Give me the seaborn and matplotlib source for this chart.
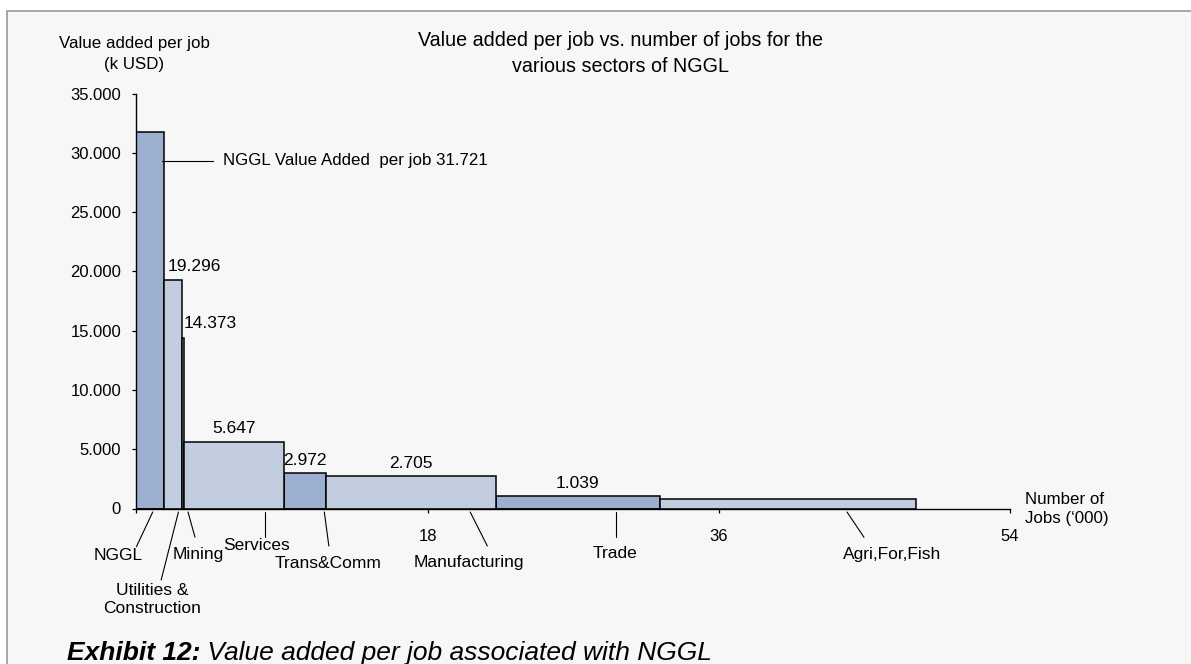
import numpy as np
import pandas as pd
import matplotlib
matplotlib.use("Agg")
import matplotlib.pyplot as plt
import matplotlib.transforms as mtransforms
from matplotlib.patches import Rectangle
import seaborn as sns

# ---------------- data ----------------
sectors = ["NGGL", "Utilities &\nConstruction", "Mining", "Services", "Trans&Comm",
           "Manufacturing", "Trade", "Agri,For,Fish"]
jobs_000 = [1.70, 1.14, 0.12, 6.15, 2.60, 10.51, 10.14, 15.83]          # bar widths ('000 jobs)
value_per_job = [31.721, 19.296, 14.373, 5.647, 2.972, 2.705, 1.039, 0.78]  # k USD
value_labels = ["", "19.296", "14.373", "5.647", "2.972", "2.705", "1.039", ""]
shade = ["dark", "light", "light", "light", "dark", "light", "dark", "light"]
y_ticks = [0, 5, 10, 15, 20, 25, 30, 35]
y_tick_labels = ["0", "5.000", "10.000", "15.000", "20.000", "25.000", "30.000", "35.000"]
x_ticks = [0, 18, 36, 54]
x_tick_labels = ["", "18", "36", "54"]
nggl_note = "NGGL Value Added  per job 31.721"

# ---------------- layout ----------------
W, H = 1191, 664
COLORS = {"dark": "#9DAFCF", "light": "#C2CEE0"}
BG = "#F7F7F7"


def fy(py):
    return 1 - py / H


# leader lines: (x start, y start px, x end, y end px, label x, label y px)
leaders = [
    (1.01, 512, 0.00, 546.7, -1.15, 555),
    (2.60, 512, 1.53, 580.0, 0.95, 599.5),
    (3.19, 512, 3.62, 537.0, 3.82, 554),
    (7.93, 512, 7.93, 536.7, 7.40, 546),
    (11.62, 512, 11.90, 546.0, 11.87, 563),
    (20.64, 512, 21.70, 546.0, 20.56, 563),
    (29.65, 512, 29.65, 537.0, 29.58, 554),
    (43.94, 512, 44.99, 537.3, 46.75, 554),
]
# value label placement: (ha, x offset px from anchor, y offset px above bar top)
value_place = {1: ("left", 4, 13), 2: ("left", 1, 15)}

sns.set_style("ticks")
plt.rcParams["font.family"] = ["Liberation Sans", "DejaVu Sans"]
plt.rcParams["text.color"] = "black"

fig = plt.figure(figsize=(W / 100, H / 100), dpi=100, facecolor="white")
fig.add_artist(Rectangle((6.5 / W, -0.01), 1.1, fy(10.5) + 0.01, transform=fig.transFigure,
                         facecolor=BG, edgecolor="#A0A0A0", linewidth=1.3, zorder=-10))

ax = fig.add_axes([136.4 / W, 1 - 508.5 / H, 873.3 / W, 414.9 / H])
ax.set_facecolor("none")

edges = np.concatenate([[0.0], np.cumsum(jobs_000)])
centers = edges[:-1] + np.diff(edges) / 2
df = pd.DataFrame({"center": centers, "value": value_per_job, "shade": shade})
bin_list = [float(e) for e in edges]

for key in ["dark", "light"]:
    sub = df[df["shade"] == key]
    sns.histplot(data=sub, x="center", weights="value", bins=bin_list,
                 color=COLORS[key], alpha=1, edgecolor="black", linewidth=1.1,
                 stat="count", ax=ax)

ax.set_xlim(0, 54)
ax.set_ylim(0, 35)
ax.set_xlabel("")
ax.set_ylabel("")
ax.set_xticks(x_ticks)
ax.set_xticklabels(x_tick_labels)
ax.set_yticks(y_ticks)
ax.set_yticklabels(y_tick_labels)
for s in ["top", "right"]:
    ax.spines[s].set_visible(False)
for s in ["left", "bottom"]:
    ax.spines[s].set_color("black")
    ax.spines[s].set_linewidth(1.0)
    ax.spines[s].set_zorder(5)
ax.tick_params(axis="x", direction="out", length=3, width=0.9, pad=11.5, labelsize=12, colors="black")
ax.tick_params(axis="y", direction="out", length=3, width=0.9, pad=8, labelsize=12, colors="black")

# value labels
for i, lbl in enumerate(value_labels):
    if not lbl:
        continue
    ha, dx, dy = value_place.get(i, ("center", 0, 13))
    x = edges[i] if ha == "left" else centers[i]
    ax.annotate(lbl, xy=(x, value_per_job[i]), xytext=(dx, dy), textcoords="offset pixels",
                ha=ha, va="center", fontsize=12.5, annotation_clip=False)

# category leader lines and labels
T = mtransforms.blended_transform_factory(ax.transData, fig.transFigure)
for name, (x0, y0, x1, y1, lx, ly) in zip(sectors, leaders):
    ax.plot([x0, x1], [fy(y0), fy(y1)], transform=T, clip_on=False, color="black", lw=0.8)
    ax.text(lx, fy(ly), name, transform=T, ha="center", va="center", fontsize=12.5,
            linespacing=1.3)

# NGGL note
ax.plot([1.56, 4.72], [fy(161), fy(161)], transform=T, clip_on=False, color="black", lw=0.8)
ax.text(5.37, fy(161), nggl_note, transform=T, ha="left", va="center", fontsize=12.2)

# texts
fig.text(134.5 / W, fy(54), "Value added per job\n(k USD)", ha="center", va="center",
         fontsize=12.2, linespacing=1.45)
fig.text(620 / W, fy(53.7), "Value added per job vs. number of jobs for the\nvarious sectors of NGGL",
         ha="center", va="center", fontsize=14.2, linespacing=1.5)
fig.text(1024.8 / W, fy(509), "Number of\nJobs (\u2018000)", ha="left", va="center",
         fontsize=12.2, linespacing=1.4)

t1 = fig.text(66.7 / W, fy(660), "Exhibit 12:", ha="left", va="baseline", fontsize=19,
              fontweight="bold", fontstyle="italic")
fig.canvas.draw()
ax.annotate(" Value added per job associated with NGGL", xy=(1.0, fy(660)),
            xycoords=(t1, "figure fraction"), ha="left", va="baseline",
            fontsize=19, fontstyle="italic", annotation_clip=False)

fig.savefig("out.png", dpi=100, facecolor="white")
